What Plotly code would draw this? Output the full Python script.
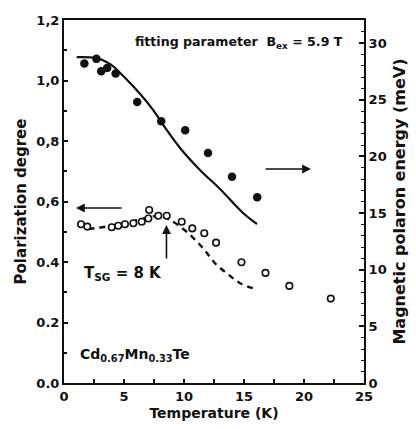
import plotly.graph_objects as go

# ---- data ----
# magnetic polaron energy (filled circles, right axis)
T_energy = [1.7, 2.7, 3.1, 3.6, 4.3, 6.1, 8.1, 10.1, 12.0, 14.0, 16.1]
E_energy = [28.2, 28.6, 27.5, 27.8, 27.3, 24.8, 23.1, 22.3, 20.3, 18.2, 16.4]

# fit of energy (solid line, right axis)
T_fit = [1.06, 2.72, 3.83, 5.08, 6.33, 7.42, 8.5, 9.67, 11.33, 13.0, 14.92, 16.08]
E_fit = [28.75, 28.66, 28.16, 26.93, 25.52, 24.1, 22.42, 20.74, 18.8, 17.12, 15.0, 14.03]

# polarization degree (open circles, left axis)
T_pol = [1.42, 1.94, 3.98, 4.52, 5.08, 5.78, 6.48, 7.03, 7.1, 7.86, 8.56, 9.81,
         10.69, 11.69, 12.67, 14.79, 16.79, 18.78, 22.23]
P_pol = [0.525, 0.517, 0.515, 0.52, 0.525, 0.528, 0.533, 0.544, 0.572, 0.553, 0.553,
         0.533, 0.511, 0.495, 0.464, 0.399, 0.364, 0.321, 0.279]

# fit of polarization (dashed line, left axis)
T_pfit = [2.0, 3.83, 5.5, 7.17, 8.0, 8.83, 10.22, 11.6, 12.58, 13.56, 14.67, 15.92]
P_pfit = [0.509, 0.519, 0.532, 0.549, 0.552, 0.539, 0.500, 0.445, 0.396, 0.363, 0.330, 0.311]

x_ticks = [0, 5, 10, 15, 20, 25]
y_ticks = [0, 0.2, 0.4, 0.6, 0.8, 1.0, 1.2]
y_ticktext = ["0.0", "0.2", "0.4", "0,6", "0,8", "1,0", "1,2"]
y2_ticks = [0, 5, 10, 15, 20, 25, 30]

FONT = "DejaVu Sans"
BLACK = "#111111"

fig = go.Figure()
fig.add_trace(go.Scatter(x=T_fit, y=E_fit, yaxis="y2", mode="lines",
                         line=dict(color=BLACK, width=2.2, shape="spline"),
                         showlegend=False))
fig.add_trace(go.Scatter(x=T_energy, y=E_energy, yaxis="y2", mode="markers",
                         marker=dict(color=BLACK, size=8.5, symbol="circle"),
                         showlegend=False))
fig.add_trace(go.Scatter(x=T_pfit, y=P_pfit, mode="lines",
                         line=dict(color=BLACK, width=2.4, dash="6px,5px", shape="spline"),
                         showlegend=False))
fig.add_trace(go.Scatter(x=T_pol, y=P_pol, mode="markers",
                         marker=dict(color="white", size=6.5, symbol="circle",
                                     line=dict(color=BLACK, width=1.6)),
                         showlegend=False))

tickfont = dict(family=FONT, size=13, color=BLACK, weight="bold")

fig.update_layout(
    width=416, height=429,
    margin=dict(l=64, r=52, t=20, b=46, autoexpand=False),
    paper_bgcolor="white", plot_bgcolor="white",
    font=dict(family=FONT, color=BLACK),
    xaxis=dict(range=[0, 25], tickvals=x_ticks, ticks="inside", ticklen=4,
               tickwidth=1.5, tickcolor=BLACK, automargin=False,
               minor=dict(dtick=2.5, ticks="inside", ticklen=4, tickwidth=1.5, tickcolor=BLACK),
               showline=True, linecolor=BLACK, linewidth=2, mirror=True,
               showgrid=False, zeroline=False, tickfont=tickfont,
               title=dict(text="Temperature (K)", standoff=6,
                          font=dict(family=FONT, size=14, color=BLACK, weight="bold"))),
    yaxis=dict(range=[0, 1.2], tickvals=y_ticks, ticktext=y_ticktext, ticks="inside",
               ticklen=4, tickwidth=1.5, tickcolor=BLACK, automargin=False,
               minor=dict(dtick=0.1, ticks="inside", ticklen=3, tickwidth=1.5, tickcolor=BLACK),
               showline=True, linecolor=BLACK, linewidth=2,
               showgrid=False, zeroline=False, tickfont=tickfont,
               title=dict(text="Polarization degree", standoff=6,
                          font=dict(family=FONT, size=15, color=BLACK, weight="bold"))),
    yaxis2=dict(range=[0, 32.03], tickvals=y2_ticks, overlaying="y", side="right",
                ticks="inside", ticklen=5, tickwidth=1.5, tickcolor=BLACK, automargin=False,
                minor=dict(dtick=1, ticks="inside", ticklen=3, tickwidth=1.2, tickcolor=BLACK),
                showline=True, linecolor=BLACK, linewidth=2,
                showgrid=False, zeroline=False, tickfont=tickfont,
                title=dict(text="Magnetic polaron energy (meV)", standoff=8,
                           font=dict(family=FONT, size=16, color=BLACK, weight="bold"))),
)

arrow = dict(showarrow=True, arrowhead=2, arrowsize=1.1, arrowwidth=1.6,
             arrowcolor=BLACK, text="", axref="x", ayref="y", xref="x", yref="y")
fig.add_annotation(x=1.0, y=0.5785, ax=4.92, ay=0.5785, **arrow)
fig.add_annotation(x=20.58, y=0.7074, ax=16.67, ay=0.7074, **arrow)
fig.add_annotation(x=8.54, y=0.522, ax=8.54, ay=0.4066, **arrow)

fig.add_annotation(x=5.75, y=1.127, xref="x", yref="y", xanchor="left", yanchor="middle",
                   showarrow=False,
                   text="fitting parameter  B<sub>ex</sub> = 5.9 T",
                   font=dict(family=FONT, size=12.6, color=BLACK, weight="bold"))
fig.add_annotation(x=1.5, y=0.362, xref="x", yref="y", xanchor="left", yanchor="middle",
                   showarrow=False, text="T<sub>SG</sub> = 8 K",
                   font=dict(family=FONT, size=15, color=BLACK, weight="bold"))
fig.add_annotation(x=1.17, y=0.092, xref="x", yref="y", xanchor="left", yanchor="middle",
                   showarrow=False, text="Cd<sub>0.67</sub>Mn<sub>0.33</sub>Te",
                   font=dict(family=FONT, size=14, color=BLACK, weight="bold"))

fig.write_html("out.html", config={"displayModeBar": False},
               post_script="document.body.style.margin='0px';")
